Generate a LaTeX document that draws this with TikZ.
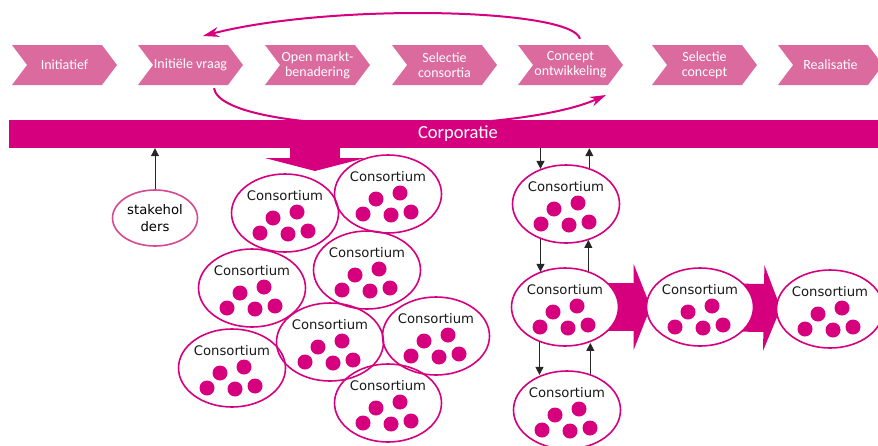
\documentclass[tikz,border=0pt]{standalone}
\usepackage{fontspec}
\setmainfont{Carlito}
\newfontfamily\consfont{DejaVu Sans}
\usetikzlibrary{shapes.symbols,shapes.geometric,arrows.meta}
\definecolor{corp}{RGB}{214,0,127}
\definecolor{fase}{RGB}{219,106,158}
\definecolor{stake}{RGB}{216,72,145}
\pgfdeclarelayer{back}
\pgfsetlayers{back,main}

\newcommand\consortium[4][]{%
  \node[consortium,#1] (#2) at (#3,#4) {};
  \path (#2.center) +(0,-17) node[cons label] (#2-t) {Consortium};
  \foreach \dx/\dy in {-12/5,12/-1,-25/20,3/21,23/18}
    \fill[corp] (#2.center) ++(\dx,\dy) circle[radius=7.5pt];
}

\begin{document}
\begin{tikzpicture}[
  x=1pt, y=-1pt,
  phase/.style={
    signal, signal from=west, signal to=east,
    signal pointer angle=106,
    fill=fase,
    minimum width=105pt, minimum height=40pt,
    inner sep=0pt,
    text=white, align=center,
    font=\fontsize{14}{15}\selectfont
  },
  bar/.style={
    fill=corp, text=white,
    minimum width=898pt, minimum height=28pt,
    font=\fontsize{18.5}{20}\selectfont
  },
  consortium/.style={
    ellipse, draw=corp, line width=1.6pt,
    minimum width=107pt, minimum height=78pt,
    inner sep=0pt
  },
  cons label/.style={
    font=\consfont\fontsize{13.2}{15}\selectfont,
    text=black!90, inner sep=0pt
  },
  stakeholder/.style={
    ellipse, draw=stake, line width=1.6pt,
    minimum width=85pt, minimum height=56pt,
    inner sep=0pt, align=center,
    font=\consfont\fontsize{13.2}{17}\selectfont
  },
  link/.style={
    black!85, line width=1pt,
    -{Triangle[length=8pt,width=8pt]}
  },
  fat arrow/.style={
    corp, line width=48pt,
    -{Triangle[length=17pt,width=85pt]}
  },
  cycle arrow/.style={
    corp, line width=2pt,
    -{Stealth[length=16pt,width=10pt]}
  },
]
\useasboundingbox (0,0) rectangle (878,445);
\clip (0,0) rectangle (878,445);

% fasen
\node[phase] (p1) at (64.5,65) {Initiatief};
\node[phase] (p2) at (190.5,65) {Initiële vraag};
\node[phase] (p3) at (317.5,65) {Open markt-\\benadering};
\node[phase] (p4) at (444.5,65) {Selectie\\consortia};
\node[phase] (p5) at (570.5,65) {Concept\\ontwikkeling};
\node[phase] (p6) at (704.5,65) {Selectie\\concept};
\node[phase] (p7) at (830.5,65) {Realisatie};

\draw[cycle arrow] ([xshift=9.5pt,yshift=6pt]p5.north)
  .. controls (572,8) and (330,3) .. (203,36);
\draw[cycle arrow] ([xshift=23.5pt,yshift=-3pt]p2.south)
  .. controls (222,136) and (515,136) .. (606,95);

\node[bar] (corp) at (458,134) {Corporatie};

\node[stakeholder] (sh) at (155,218) {stakehol\\ders};
\draw[link] (sh) -- (sh |- corp.south);

% losse consortia
\consortium{e1}{285}{213}
\consortium{e2}{388}{194}
\consortium{e3}{367}{270}
\consortium{e4}{252}{288}
\consortium{e5}{330}{342}
\consortium{e6}{436}{336}
\consortium{e7}{232}{368}
\consortium{e8}{388}{403}

% selectie
\consortium[fill=white]{r1}{566}{204}
\consortium[fill=white]{r2}{565}{307}
\consortium[fill=white]{r3}{567}{410}
\consortium[fill=white]{r4}{700}{307}
\consortium[fill=white]{r5}{830}{309}

\draw[link] (corp.south -| r1.126) -- (r1.126);
\draw[link] (r1.57) -- (r1.57 |- corp.south);
\draw[link] (r1.234) -- (r1.234 |- r2.126);
\draw[link] (r2.57) -- (r2.57 |- r1.303);
\draw[link] (r2.234) -- (r2.234 |- r3.126);
\draw[link] (r3.57) -- (r3.57 |- r2.303);

\begin{pgfonlayer}{back}
\coordinate (drop) at (315,147);
\draw[fat arrow, line width=50pt, -{Triangle[length=13pt,width=100pt]}]
  (drop) -- ++(0,24);
\draw[fat arrow, shorten <=-14pt, shorten >=-5pt] (r2) -- (r4);
\draw[fat arrow, shorten <=-14pt, shorten >=-5pt] (r4) -- (r5);
\end{pgfonlayer}
\end{tikzpicture}
\end{document}
